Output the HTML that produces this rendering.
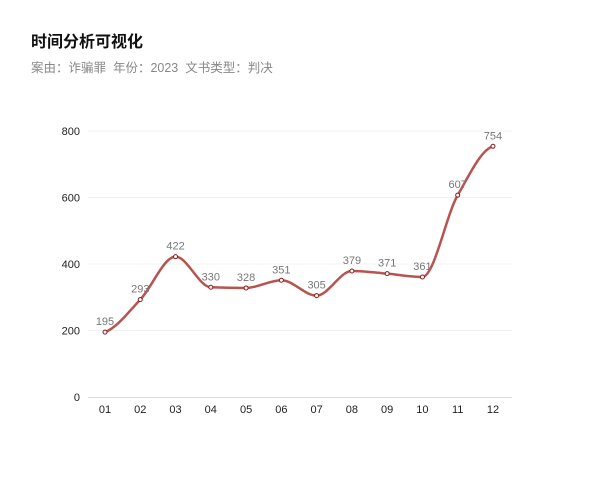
<!DOCTYPE html>
<html><head><meta charset="utf-8"><style>
html,body{margin:0;padding:0;background:#fff;width:600px;height:485px;overflow:hidden}
.t{position:absolute;left:31px;top:28px;font:bold 16px "Liberation Sans","Noto Sans CJK SC",sans-serif;color:#111}
.s{position:absolute;left:31px;top:57px;font:12.5px "Liberation Sans","Noto Sans CJK SC",sans-serif;color:#888}
svg{position:absolute;left:0;top:0}
text{font-family:"Liberation Sans","Noto Sans CJK SC",sans-serif}
</style></head><body>
<div class="t">时间分析可视化</div>
<div class="s">案由：诈骗罪&nbsp; 年份：2023&nbsp; 文书类型：判决</div>
<svg id="c" width="600" height="485" xmlns="http://www.w3.org/2000/svg"></svg>
<script>
var d=[195,293,422,330,328,351,305,379,371,361,607,754];
var s=document.getElementById('c'),h='';
function Y(v){return 397-v*266/800}
function X(i){return 105+i*35.27}
[200,400,600,800].forEach(function(v){h+='<line x1="88" x2="512" y1="'+Y(v)+'" y2="'+Y(v)+'" stroke="#f0f0f0" stroke-width="1"/>';h+='<text x="80" y="'+(Y(v)+4)+'" font-size="11" text-anchor="end" fill="#222">'+v+'</text>'});
h+='<text x="80" y="401" font-size="11" text-anchor="end" fill="#222">0</text>';
h+='<line x1="88" x2="512" y1="397.5" y2="397.5" stroke="#ddd"/>';
var p=d.map(function(v,i){return [X(i),Y(v)]});
var n=p.length,dx=35.27,sl=[],m=[];
for(var i=0;i<n-1;i++)sl.push((p[i+1][1]-p[i][1])/dx);
for(var i=0;i<n;i++){
 if(i==0)m.push(sl[0]*0.4);else if(i==n-1)m.push(sl[n-2]*0.2);
 else if(sl[i-1]*sl[i]<=0)m.push(0);
 else m.push(2/(1/sl[i-1]+1/sl[i]));
}
var path='M'+p[0][0]+' '+p[0][1];
for(var i=0;i<n-1;i++){
 path+=' C'+(p[i][0]+dx/3)+' '+(p[i][1]+m[i]*dx/3)+' '+(p[i+1][0]-dx/3)+' '+(p[i+1][1]-m[i+1]*dx/3)+' '+p[i+1][0]+' '+p[i+1][1];
}
h+='<path d="'+path+'" fill="none" stroke="#b85450" stroke-width="2.5"/>';
p.forEach(function(q,i){
 h+='<circle cx="'+q[0]+'" cy="'+q[1]+'" r="2" fill="#fff" stroke="#8b1a1a" stroke-width="1"/>';
 h+='<text x="'+q[0]+'" y="'+(q[1]-7)+'" font-size="11" text-anchor="middle" fill="#777">'+d[i]+'</text>';
 h+='<text x="'+q[0]+'" y="413" font-size="11" text-anchor="middle" fill="#222">'+(i<9?'0':'')+(i+1)+'</text>';
});
s.innerHTML=h;
</script>
</body></html>
